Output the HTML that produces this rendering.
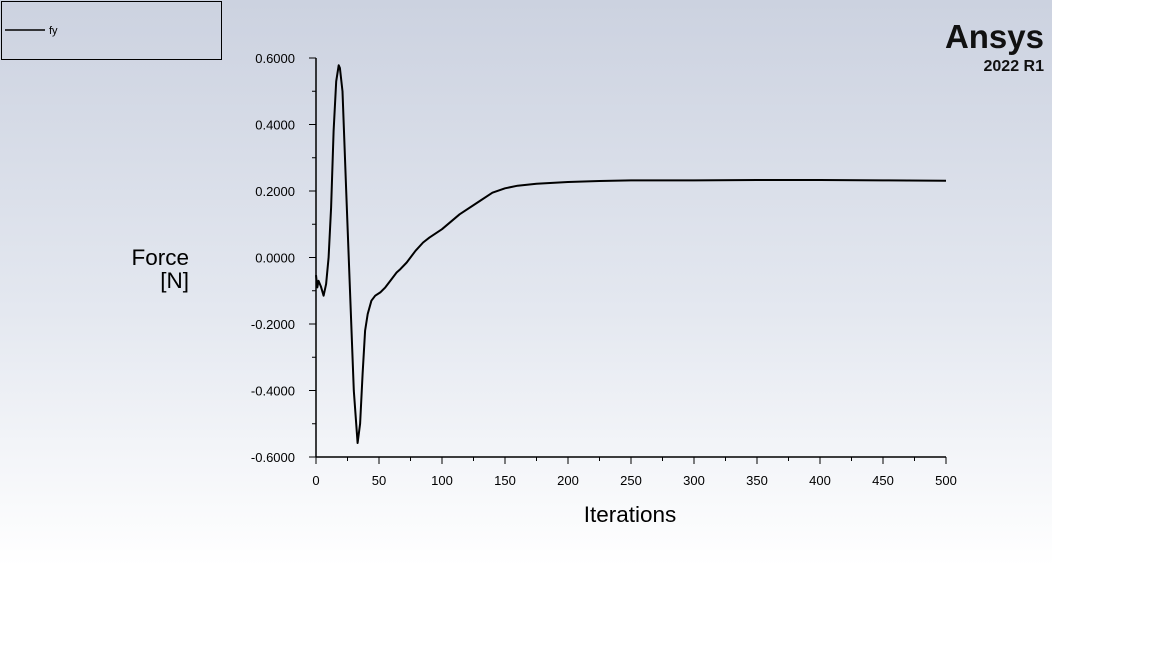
<!DOCTYPE html>
<html><head><meta charset="utf-8"><style>
body{margin:0;width:1152px;height:648px;background:#fff;overflow:hidden;font-family:"Liberation Sans",sans-serif}
#bg{position:absolute;left:0;top:0;width:1052px;height:566px;background:linear-gradient(#ccd2e0,#e4e8f0 55%,#ffffff)}
svg{position:absolute;left:0;top:0}
</style></head><body>
<div id="bg"></div>
<svg width="1152" height="648">
<g>
<rect x="1.5" y="1.5" width="220" height="58" fill="none" stroke="#000"/>
<line x1="5" y1="30" x2="45" y2="30" stroke="#000" stroke-width="1.5"/>
<text x="49" y="34" font-size="11">fy</text>
</g>
<g>
<text x="1044" y="48" font-size="33" font-weight="bold" text-anchor="end" fill="#111">Ansys</text>
<text x="1044" y="71" font-size="16" font-weight="bold" text-anchor="end" fill="#111">2022 R1</text>
</g>
<g id="axes"></g>
<text x="189" y="265" font-size="22.5" text-anchor="end">Force</text>
<text x="189" y="288" font-size="22.5" text-anchor="end">[N]</text>
<text x="630" y="522" font-size="22.5" text-anchor="middle">Iterations</text>
</svg>
<script>
const iters=[0,1,2,4,6,8,10,12,14,16,18,19,21,24,27,30,33,35,37,39,41,44,47,51,55,60,64,67,72,79,85,90,100,114,130,140,150,160,175,200,225,250,300,350,400,450,500];
const fy=[-0.053,-0.09,-0.07,-0.088,-0.115,-0.08,0.0,0.15,0.38,0.53,0.578,0.57,0.5,0.2,-0.1,-0.4,-0.558,-0.5,-0.35,-0.22,-0.17,-0.13,-0.115,-0.105,-0.09,-0.065,-0.045,-0.035,-0.015,0.02,0.045,0.06,0.085,0.13,0.17,0.195,0.208,0.216,0.222,0.227,0.23,0.232,0.232,0.233,0.233,0.232,0.231];
const yTicks=[0.6,0.4,0.2,0,-0.2,-0.4,-0.6];
const xTicks=[0,50,100,150,200,250,300,350,400,450,500];
const X=v=>316+v*(630/500), Y=v=>257.5-v*(399/1.2);
const NS='http://www.w3.org/2000/svg', g=document.getElementById('axes');
function mk(t,a){const e=document.createElementNS(NS,t);for(const k in a)e.setAttribute(k,a[k]);g.appendChild(e);return e;}
let e=mk('line',{x1:316,y1:Y(0.6),x2:316,y2:Y(-0.6)+0.5,stroke:'#000','stroke-width':1.5});


e=mk('line',{x1:315.5,y1:Y(-0.6),x2:X(500),y2:Y(-0.6),stroke:'#000','stroke-width':1.5});


for(let v=-0.6;v<=0.6001;v+=0.1){const big=Math.abs(Math.round(v*10))%2==0;
e=mk('line',{x1:big?309:312,y1:Y(v),x2:316,y2:Y(v),stroke:'#000'});

}
yTicks.forEach(v=>{e=mk('text',{x:295,y:Y(v)+5,'font-size':13,'text-anchor':'end'});e.textContent=v.toFixed(4);

});
for(let v=0;v<=500;v+=25){const big=v%50==0;
e=mk('line',{x1:X(v),y1:Y(-0.6),x2:X(v),y2:Y(-0.6)+(big?7:4),stroke:'#000'});

}
xTicks.forEach(v=>{e=mk('text',{x:X(v),y:485,'font-size':13,'text-anchor':'middle'});e.textContent=v;

});
e=mk('path',{d:iters.map((t,i)=>(i?'L':'M')+X(t).toFixed(1)+','+Y(fy[i]).toFixed(1)).join(''),fill:'none',stroke:'#000','stroke-width':2,'stroke-linejoin':'round'});


</script>
</body></html>
